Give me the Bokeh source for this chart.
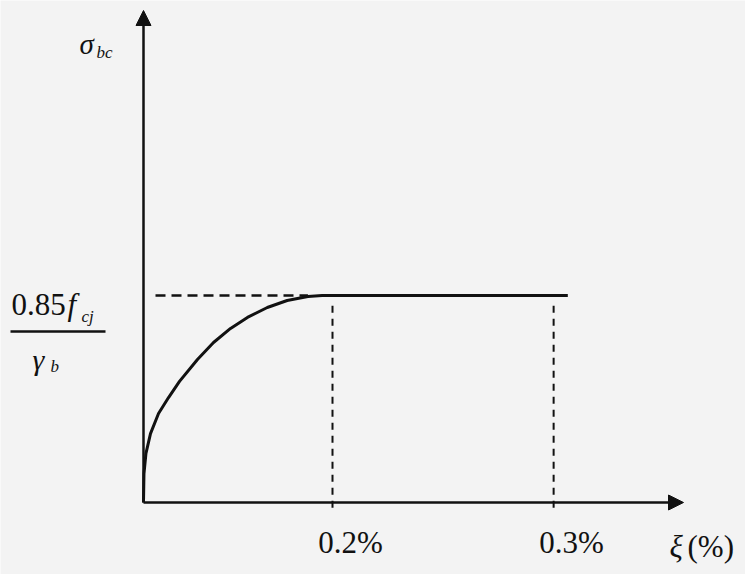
from bokeh.plotting import figure
from bokeh.models import Label, Arrow, NormalHead, Range1d, ColumnDataSource
from bokeh.core.properties import value
from bokeh.embed import file_html
from bokeh.resources import INLINE

# ---- data (schematic stress-strain diagram of concrete) ----
curve_strain = [0, 0.0005, 0.0026, 0.0074, 0.0159, 0.0265, 0.0381, 0.0571, 0.0741,
                0.0921, 0.110, 0.131, 0.152, 0.174, 0.189, 0.449]
curve_stress = [0, 0.140, 0.237, 0.333, 0.430, 0.507, 0.585, 0.691, 0.773,
                0.841, 0.894, 0.942, 0.976, 0.995, 1.0, 1.0]
tick_pos = [0.2, 0.434]
tick_labels = ["0.2%", "0.3%"]
plateau = 1.0

BG = "#f3f3f3"
SERIF = "Liberation Serif"
INK = "#111111"

def X(px):
    return (px - 143) / 945.0

def Y(py):
    return (502 - py) / 207.0

p = figure(width=745, height=574, output_backend="svg", toolbar_location=None,
           x_range=Range1d(X(0), X(745)), y_range=Range1d(Y(574), Y(0)),
           min_border=0, background_fill_color=BG, border_fill_color=BG,
           outline_line_color=None)
p.xaxis.visible = False
p.yaxis.visible = False
p.xgrid.grid_line_color = None
p.ygrid.grid_line_color = None

# axes with arrows
p.add_layout(Arrow(end=NormalHead(size=15, fill_color=INK, line_color=INK),
                   x_start=0, y_start=0, x_end=0, y_end=Y(10), line_width=2.5, line_color=INK))
p.add_layout(Arrow(end=NormalHead(size=15, fill_color=INK, line_color=INK),
                   x_start=0, y_start=0, x_end=X(683), y_end=0, line_width=2.5, line_color=INK))

# dashed guide lines
p.segment(x0=[X(155)], y0=[plateau], x1=[curve_strain[-3]], y1=[plateau],
          line_color=INK, line_width=2.5, line_dash="10 6")
p.segment(x0=tick_pos, y0=[-0.025] * len(tick_pos), x1=tick_pos, y1=[plateau * 0.97] * len(tick_pos),
          line_color=INK, line_width=2, line_dash="7 6")

# stress-strain curve
p.line(curve_strain, curve_stress, line_color=INK, line_width=3, line_join="round")

# tick labels
src = ColumnDataSource(dict(x=tick_pos, y=[Y(542)] * len(tick_pos), t=tick_labels))
p.text(x="x", y="y", text="t", source=src, x_offset=18, text_align="center",
       text_baseline="middle", text_font=value(SERIF), text_font_size="31px", text_color=INK)

def lab(px, py, txt, size, italic=False, align="left"):
    p.add_layout(Label(x=X(px), y=Y(py), text=txt, text_font=SERIF, text_font_size=size,
                       text_font_style="italic" if italic else "normal",
                       text_align=align, text_baseline="middle", text_color=INK))

# y-axis label sigma_bc
lab(79, 43, "σ", "29px", italic=True)
lab(96, 52, "bc", "17px", italic=True)

# fraction 0.85 f_cj / gamma_b
lab(11, 304, "0.85", "31px")
lab(67, 304, "f", "31px", italic=True)
lab(81, 316, "cj", "17px", italic=True)
p.segment(x0=[X(10)], y0=[Y(331)], x1=[X(105)], y1=[Y(331)], line_color=INK, line_width=2.5)
lab(32, 359, "γ", "30px", italic=True)
lab(50, 366, "b", "17px", italic=True)

# x-axis label
lab(669, 546, "ξ", "31px", italic=True)
lab(687, 546, "(%)", "31px")

open("out.html", "w").write(file_html(p, INLINE))
